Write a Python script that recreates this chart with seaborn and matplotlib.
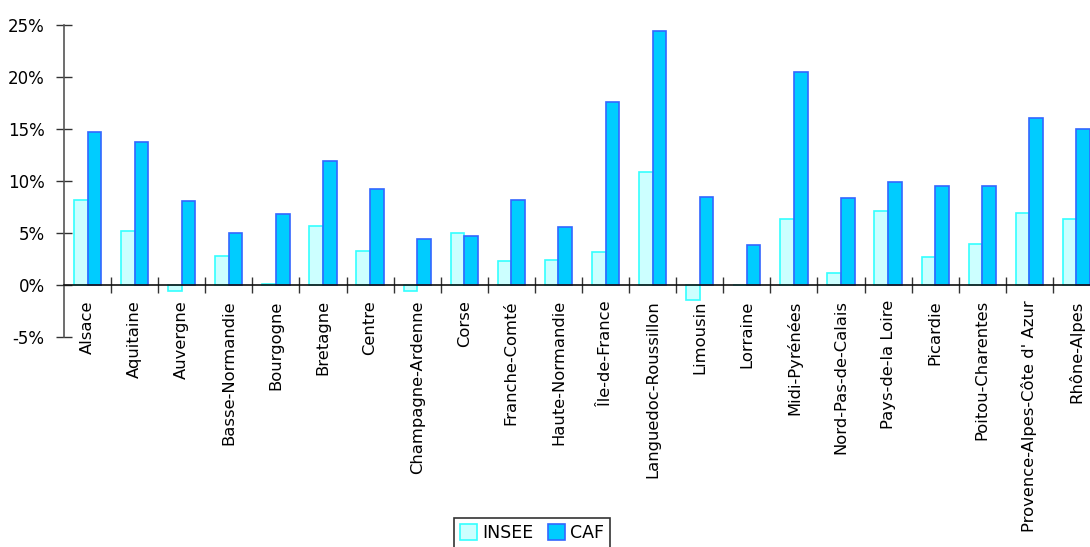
import matplotlib
matplotlib.use("Agg")
import matplotlib.pyplot as plt
import matplotlib.ticker as mticker
import seaborn as sns
import pandas as pd

regions = [
    "Alsace", "Aquitaine", "Auvergne", "Basse-Normandie", "Bourgogne",
    "Bretagne", "Centre", "Champagne-Ardenne", "Corse", "Franche-Comté",
    "Haute-Normandie", "Île-de-France", "Languedoc-Roussillon", "Limousin",
    "Lorraine", "Midi-Pyrénées", "Nord-Pas-de-Calais", "Pays-de-la Loire",
    "Picardie", "Poitou-Charentes", "Provence-Alpes-Côte d' Azur", "Rhône-Alpes",
]
insee = [8.2, 5.15, -0.6, 2.8, 0.05, 5.7, 3.3, -0.6, 4.95, 2.25,
         2.4, 3.2, 10.85, -1.45, 0.0, 6.35, 1.1, 7.05, 2.65, 3.9, 6.9, 6.35]
caf = [14.7, 13.7, 8.05, 5.0, 6.8, 11.85, 9.2, 4.4, 4.7, 8.15,
       5.6, 17.6, 24.4, 8.4, 3.8, 20.4, 8.3, 9.85, 9.45, 9.45, 16.05, 14.95]
series = ["INSEE", "CAF"]

df = pd.DataFrame({
    "region": regions * 2,
    "value": insee + caf,
    "source": ["INSEE"] * len(regions) + ["CAF"] * len(regions),
})

fills = {"INSEE": "#CCFFFF", "CAF": "#00CCFF"}
edges = {"INSEE": "#33FFFF", "CAF": "#3366FF"}

sns.set_style("white")
plt.rcParams["font.family"] = ["DejaVu Sans"]
plt.rcParams["text.color"] = "black"
plt.rcParams["xtick.color"] = "black"
plt.rcParams["ytick.color"] = "black"

fig = plt.figure(figsize=(10.9, 5.47), dpi=100)
ax = fig.add_axes([64 / 1090, 210 / 547, 1036 / 1090, 312.5 / 547])

sns.barplot(data=df, x="region", y="value", hue="source", hue_order=series,
            order=regions, palette=fills, width=0.58, saturation=1,
            legend=False, ax=ax)
for cont, name in zip(ax.containers, series):
    for bar in cont:
        bar.set_edgecolor(edges[name])
        bar.set_linewidth(1.2)

ax.set_xlim(-0.5, len(regions) - 0.5)
ax.set_ylim(-5, 25)
ax.set_xlabel("")
ax.set_ylabel("")

# y axis: percentage ticks crossing the spine
ax.yaxis.set_major_locator(mticker.MultipleLocator(5))
ax.yaxis.set_major_formatter(mticker.FuncFormatter(lambda v, p: f"{v:.0f}%"))
ax.tick_params(axis="y", left=True, direction="inout", length=12, width=1,
               color="#333333", labelcolor="black", labelsize=12, pad=8)

# x axis sits on the zero line, ticks between groups
ax.spines["bottom"].set_position(("data", 0))
ax.spines["bottom"].set_color("#111111")
ax.spines["bottom"].set_linewidth(1.2)
ax.spines["left"].set_color("#555555")
ax.spines["left"].set_linewidth(1.2)
ax.spines["top"].set_visible(False)
ax.spines["right"].set_visible(False)

ax.set_xticks([i + 0.5 for i in range(len(regions))], minor=True)
ax.tick_params(axis="x", which="minor", bottom=True, direction="inout",
               length=12, width=1, color="#333333")
ax.tick_params(axis="x", which="major", bottom=True, length=0, pad=11,
               labelcolor="black")
ax.set_xticks(range(len(regions)))
ax.set_xticklabels(regions, rotation=90, fontsize=11.8, va="top", ha="center")

handles = [plt.Rectangle((0, 0), 1, 1, facecolor=fills[s], edgecolor=edges[s],
                         linewidth=1.2) for s in series]
leg = fig.legend(handles, series, loc="upper center",
                 bbox_to_anchor=(532 / 1090, 1 - 518 / 547), ncol=2,
                 frameon=True, fancybox=False, fontsize=12.5,
                 handlelength=1.0, handleheight=1.0, handletextpad=0.3,
                 columnspacing=0.8, borderpad=0.35, borderaxespad=0)
leg.get_frame().set_edgecolor("black")
leg.get_frame().set_linewidth(1.2)

fig.savefig("out.png", dpi=100)
